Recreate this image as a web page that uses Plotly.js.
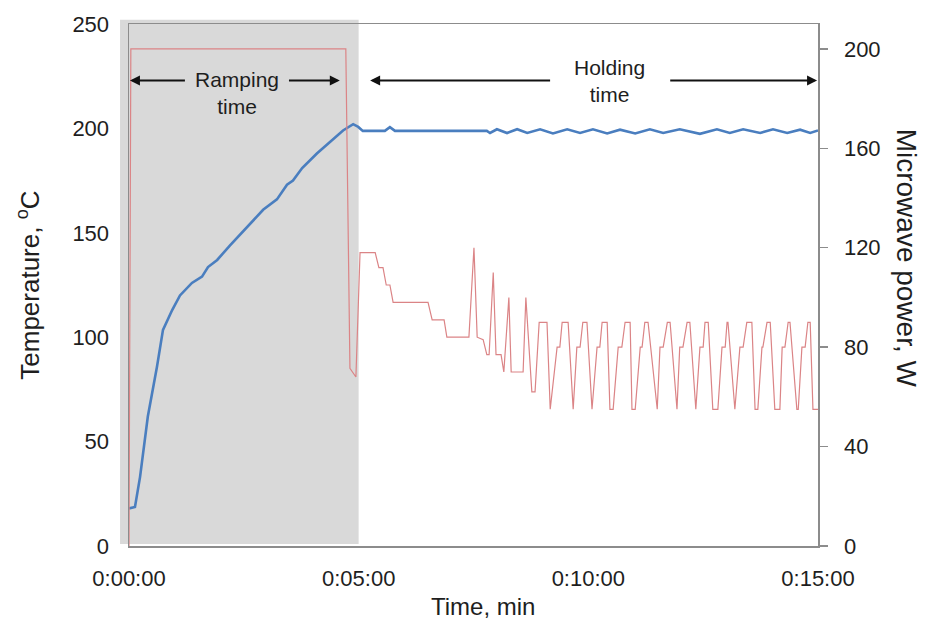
<!DOCTYPE html>
<html>
<head>
<meta charset="utf-8">
<script src="https://cdn.plot.ly/plotly-3.0.1.min.js"></script>
<style>html,body{margin:0;padding:0;background:#fff;}#chart{width:929px;height:625px;}</style>
</head>
<body>
<div id="chart"></div>
<script>
// Time in minutes, temperature in °C
const tempTime = [0.00,0.13,0.24,0.41,0.61,0.74,0.94,1.11,1.37,1.59,1.72,1.92,2.20,2.57,2.92,3.22,3.44,3.57,3.77,4.09,4.38,4.66,4.88,4.99,5.09,5.25,5.57,5.68,5.79,7.79,7.86,8.01,8.23,8.45,8.67,8.95,9.23,9.54,9.82,10.10,10.41,10.69,11.02,11.34,11.63,11.99,12.43,12.80,13.08,13.37,13.74,14.02,14.33,14.61,14.83,15.00];
const tempValues = [18.0,18.7,33,62,86,103.5,113,120,126,129,133.6,137,144,153,161,166,173,175,181,188,193.5,199,202,200.7,198.8,198.8,198.8,200.6,198.8,198.8,197.8,199.6,197.8,199.6,197.8,199.6,197.6,199.6,197.8,199.6,197.6,199.4,197.6,199.6,197.8,199.6,197.4,199.6,197.8,199.6,197.8,199.6,197.8,199.4,197.8,199.0];

// Time in minutes, microwave power in W
const powerTime = [0.00,0.04,4.72,4.81,4.94,5.03,5.36,5.44,5.53,5.60,5.68,5.75,6.51,6.60,6.86,6.92,7.40,7.51,7.58,7.71,7.79,7.84,7.93,7.99,8.10,8.16,8.27,8.32,8.58,8.64,8.77,8.84,8.93,9.10,9.17,9.32,9.38,9.43,9.56,9.67,9.75,9.82,9.88,9.97,10.08,10.19,10.25,10.30,10.41,10.47,10.54,10.65,10.73,10.80,10.91,10.95,11.02,11.13,11.17,11.23,11.30,11.50,11.56,11.63,11.72,11.78,11.93,11.99,12.06,12.15,12.21,12.34,12.43,12.50,12.54,12.61,12.71,12.82,12.91,12.98,13.02,13.04,13.19,13.30,13.37,13.45,13.56,13.63,13.69,13.78,13.80,13.89,13.96,14.06,14.17,14.22,14.28,14.35,14.39,14.54,14.57,14.65,14.72,14.78,14.83,14.89,15.00];
const powerValues = [0,200,200,71.5,68,118,118,112,112,105,105,98,98,91,91,84,84,120,84,83,77,77,110,77,77,70,100,70,70,100,62,62,90,90,55,80,80,90,90,55,80,80,90,90,55,80,80,90,90,55,55,80,80,90,90,55,55,80,80,90,90,55,80,80,90,90,55,80,80,90,90,55,80,80,90,90,55,55,80,80,90,90,55,80,80,90,90,55,55,80,80,90,90,55,55,80,80,90,90,55,55,80,80,90,90,55,55];

const xTickVals = [0,5,10,15];
const xTickText = ["0:00:00","0:05:00","0:10:00","0:15:00"];
const yTickVals = [0,50,100,150,200,250];
const y2TickVals = [0,40,80,120,160,200];

const FONT = "Liberation Sans, Arial, sans-serif";
const AX = "#8c8c8c";
const TXT = "#1e1e1e";

const traces = [
  {x: tempTime, y: tempValues, type: "scatter", mode: "lines", yaxis: "y",
   line: {color: "#4a7ebf", width: 2.6}, hoverinfo: "skip"},
  {x: powerTime, y: powerValues, type: "scatter", mode: "lines", yaxis: "y2",
   line: {color: "#db8486", width: 1.2}, hoverinfo: "skip"}
];

const annFont = {family: FONT, size: 21, color: TXT};
const tickFont = {family: FONT, size: 22, color: TXT};
const arrow = (x, ax, y) => ({x: x, y: y, ax: ax, ay: y, xref: "x", yref: "y", axref: "x", ayref: "y",
  showarrow: true, arrowhead: 2, arrowsize: 1, arrowwidth: 2, arrowcolor: "#111", text: ""});

const layout = {
  width: 929, height: 625,
  margin: {l: 129, r: 111, t: 24, b: 79},
  paper_bgcolor: "#ffffff", plot_bgcolor: "rgba(0,0,0,0)",
  showlegend: false,
  font: {family: FONT, size: 22, color: TXT},
  xaxis: {range: [0, 15], tickvals: xTickVals, ticktext: xTickText,
    showline: true, linecolor: AX, linewidth: 1.5, mirror: true,
    showgrid: false, zeroline: false, ticks: "", ticklabelstandoff: 12,
    tickfont: tickFont},
  yaxis: {range: [0, 250], tickvals: yTickVals,
    showline: true, linecolor: AX, linewidth: 1.5,
    showgrid: false, zeroline: false, ticks: "", ticklabelstandoff: 14,
    tickfont: tickFont},
  yaxis2: {range: [0, 210], tickvals: y2TickVals, overlaying: "y", side: "right",
    showline: true, linecolor: AX, linewidth: 1.5,
    showgrid: false, zeroline: false, ticks: "outside", ticklen: 8, tickcolor: AX, tickwidth: 1.5,
    ticklabelstandoff: 12,
    tickfont: tickFont},
  shapes: [
    {type: "rect", xref: "paper", yref: "paper", x0: -0.013, x1: 0.3333, y0: 0.004, y1: 1.008,
     fillcolor: "#d9d9d9", line: {width: 0}, layer: "below"}
  ],
  annotations: [
    arrow(0.02, 1.25, 223), arrow(4.59, 3.45, 223),
    arrow(5.25, 9.2, 223), arrow(14.98, 11.75, 223),
    {x: 2.35, y: 217, xref: "x", yref: "y", text: "Ramping<br>time", showarrow: false, font: annFont},
    {x: 10.47, y: 222.7, xref: "x", yref: "y", text: "Holding<br>time", showarrow: false, font: annFont},
    {x: -0.147, y: 0.50, xref: "paper", yref: "paper", xanchor: "center", yanchor: "middle",
     text: "Temperature, <sup>o</sup>C", textangle: -90, showarrow: false,
     font: {family: FONT, size: 26, color: TXT}},
    {x: 1.128, y: 0.552, xref: "paper", yref: "paper", xanchor: "center", yanchor: "middle",
     text: "Microwave power, W", textangle: 90, showarrow: false,
     font: {family: FONT, size: 28, color: TXT}},
    {x: 0.514, y: -0.115, xref: "paper", yref: "paper", xanchor: "center", yanchor: "middle",
     text: "Time, min", showarrow: false, font: {family: FONT, size: 24, color: TXT}}
  ]
};

Plotly.newPlot("chart", traces, layout, {staticPlot: true, displayModeBar: false});
</script>
</body>
</html>
